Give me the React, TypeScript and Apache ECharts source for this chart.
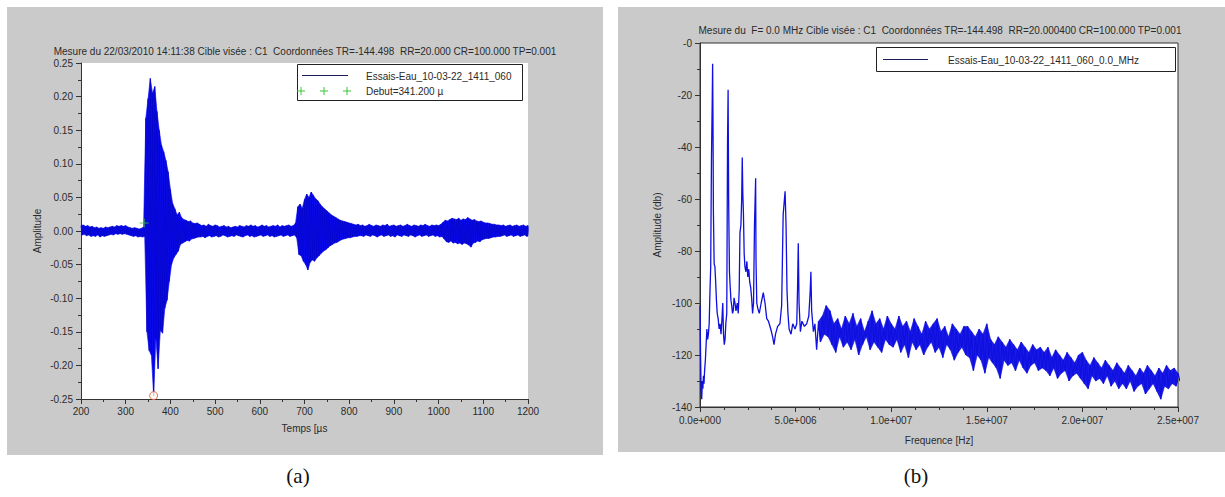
import React, { useEffect, useRef } from 'react';
import * as echarts from 'echarts';

// ---------- (a) time signal: envelope, one pair every 5 µs ----------
const timeStartUs = 200;
const timeStepUs = 5;
const upperAmp = [
  // 200 - 340
  0.008, 0.009, 0.007, 0.008, 0.006, 0.007, 0.005, 0.006, 0.004, 0.005, 0.004, 0.006, 0.005, 0.006, 0.007,
  0.006, 0.008, 0.007, 0.008, 0.007, 0.008, 0.006, 0.005, 0.004, 0.005, 0.004, 0.003, 0.004, 0.006,
  // 345 - 460
  0.168, 0.197, 0.227, 0.205, 0.215, 0.178, 0.15, 0.128, 0.118, 0.105, 0.088, 0.062, 0.041, 0.033, 0.024,
  0.028, 0.02, 0.017, 0.016, 0.014, 0.015, 0.012, 0.011, 0.012,
  // 465 - 680
  0.010, 0.008, 0.009, 0.007, 0.010, 0.008, 0.007, 0.009, 0.008, 0.006, 0.007, 0.008, 0.006, 0.007, 0.005,
  0.006, 0.007, 0.006, 0.008, 0.007, 0.006, 0.008, 0.007, 0.009, 0.007, 0.008, 0.006, 0.007, 0.009, 0.007,
  0.008, 0.006, 0.007, 0.008, 0.007, 0.009, 0.006, 0.008, 0.007, 0.008, 0.009, 0.007, 0.008, 0.012,
  // 685 - 820
  0.036, 0.040, 0.034, 0.047, 0.055, 0.050, 0.058, 0.053, 0.048, 0.045, 0.040, 0.036, 0.033, 0.030, 0.027,
  0.024, 0.022, 0.020, 0.018, 0.016, 0.015, 0.014, 0.013, 0.012, 0.011, 0.010, 0.009, 0.010,
  // 825 - 1010
  0.008, 0.009, 0.007, 0.008, 0.010, 0.008, 0.007, 0.009, 0.008, 0.007, 0.009, 0.008, 0.010, 0.007, 0.008,
  0.009, 0.007, 0.008, 0.009, 0.007, 0.008, 0.010, 0.008, 0.007, 0.009, 0.008, 0.007, 0.009, 0.008, 0.010,
  0.008, 0.007, 0.009, 0.008, 0.009, 0.008, 0.010, 0.013,
  // 1015 - 1130
  0.016, 0.015, 0.017, 0.019, 0.018, 0.017, 0.019, 0.016, 0.018, 0.017, 0.020, 0.018, 0.016, 0.017, 0.015,
  0.014, 0.015, 0.013, 0.012, 0.012, 0.011, 0.010, 0.010, 0.009,
  // 1135 - 1200
  0.009, 0.008, 0.009, 0.007, 0.008, 0.009, 0.007, 0.008, 0.009, 0.007, 0.008, 0.009, 0.007, 0.008,
];
const lowerAmp = [
  // 200 - 340
  -0.006, -0.005, -0.007, -0.006, -0.008, -0.007, -0.008, -0.006, -0.009, -0.007, -0.008, -0.007, -0.006, -0.005, -0.006,
  -0.004, -0.005, -0.004, -0.005, -0.004, -0.005, -0.006, -0.007, -0.008, -0.007, -0.009, -0.008, -0.009, -0.008,
  // 345 - 460
  -0.150, -0.178, -0.185, -0.245, -0.160, -0.205, -0.148, -0.152, -0.115, -0.103, -0.075, -0.050, -0.040, -0.035, -0.030,
  -0.020, -0.018, -0.016, -0.014, -0.015, -0.012, -0.011, -0.010, -0.009,
  // 465 - 680
  -0.009, -0.008, -0.010, -0.008, -0.007, -0.009, -0.008, -0.007, -0.009, -0.008, -0.006, -0.007, -0.009, -0.008, -0.007,
  -0.008, -0.006, -0.007, -0.008, -0.009, -0.007, -0.006, -0.008, -0.007, -0.009, -0.008, -0.007, -0.006, -0.008, -0.007,
  -0.006, -0.008, -0.007, -0.009, -0.008, -0.007, -0.006, -0.008, -0.007, -0.006, -0.008, -0.007, -0.006, -0.010,
  // 685 - 820
  -0.035, -0.037, -0.045, -0.050, -0.058, -0.047, -0.043, -0.045, -0.040, -0.037, -0.033, -0.030, -0.028, -0.025, -0.022,
  -0.020, -0.018, -0.017, -0.015, -0.013, -0.012, -0.011, -0.010, -0.010, -0.009, -0.008, -0.008, -0.007,
  // 825 - 1010
  -0.007, -0.008, -0.006, -0.007, -0.008, -0.006, -0.007, -0.009, -0.007, -0.006, -0.008, -0.007, -0.006, -0.008, -0.007,
  -0.009, -0.006, -0.007, -0.008, -0.006, -0.007, -0.008, -0.006, -0.007, -0.009, -0.007, -0.006, -0.008, -0.007, -0.006,
  -0.008, -0.007, -0.006, -0.008, -0.007, -0.009, -0.008, -0.012,
  // 1015 - 1130
  -0.016, -0.017, -0.015, -0.018, -0.017, -0.019, -0.018, -0.020, -0.018, -0.019, -0.021, -0.024, -0.018, -0.017, -0.015,
  -0.016, -0.013, -0.012, -0.011, -0.011, -0.010, -0.009, -0.009, -0.008,
  // 1135 - 1200
  -0.008, -0.007, -0.006, -0.008, -0.007, -0.006, -0.008, -0.007, -0.006, -0.008, -0.007, -0.006, -0.008, -0.007,
];
const debutTimeUs = 341.2;
const debutAmp = 0.012;

// ---------- (b) spectrum ----------
const peakFreqMHz = [
  0.0, 0.03, 0.06, 0.09, 0.12, 0.15, 0.18, 0.21, 0.24, 0.28, 0.32, 0.36, 0.4, 0.44, 0.48, 0.52, 0.56, 0.6, 0.64, 0.66,
  0.68, 0.7, 0.74, 0.78, 0.82, 0.86, 0.9, 0.95, 1.0, 1.05, 1.1, 1.15, 1.19, 1.23, 1.27, 1.31, 1.35, 1.4, 1.44, 1.47,
  1.5, 1.54, 1.58, 1.62, 1.66, 1.7, 1.74, 1.78, 1.83, 1.88, 1.95, 2.0, 2.05, 2.09, 2.14, 2.18, 2.21, 2.24, 2.27, 2.31,
  2.35, 2.4, 2.45, 2.5, 2.55, 2.6, 2.65, 2.7, 2.75, 2.8, 2.85, 2.91, 2.93, 2.97, 3.02, 3.1, 3.2, 3.31, 3.4, 3.49,
  3.58, 3.7, 3.8, 3.87, 3.95, 4.06, 4.18, 4.27, 4.35, 4.45, 4.5, 4.55, 4.6, 4.66, 4.76, 4.85, 4.97, 5.06, 5.1, 5.14,
  5.18, 5.25, 5.33, 5.46, 5.58, 5.69, 5.76, 5.8, 5.84, 5.93, 6.01, 6.1,
];
const peakDb = [
  -101, -120, -134, -137, -130, -133, -128, -131, -126, -122, -116, -110, -114, -112, -108, -96, -86, -44, -22, -8,
  -30, -64, -85, -86, -92, -99, -104, -106, -110, -108, -112, -106, -100, -112, -116, -114, -108, -104, -38, -18,
  -62, -88, -94, -99, -101, -104, -103, -98, -100, -103, -100, -104, -95, -73, -70, -60, -44, -58, -65, -81,
  -86, -88, -84, -90, -87, -92, -94, -98, -104, -100, -70, -52, -84, -100, -102, -104, -100, -96, -100, -106,
  -107, -110, -113, -116, -112, -109, -108, -101, -66, -57, -70, -95, -104, -110, -112, -108, -110, -108, -95, -77,
  -100, -111, -107, -109, -108, -105, -96, -88, -103, -111, -108, -118,
];
const noiseStartMHz = 6.2;
const noiseStepMHz = 0.2;
const noiseUpperDb = [
  // 6.2 - 9.8
  -107, -105, -101, -103, -108, -106, -110, -105, -108, -104, -109, -106, -111, -107, -103, -108, -106, -110, -105,
  // 10.0 - 13.8
  -108, -110, -105, -109, -107, -111, -106, -109, -112, -107, -110, -108, -106, -111, -109, -113, -108, -110, -112, -109,
  // 14.0 - 17.8
  -109, -111, -113, -110, -112, -108, -114, -116, -113, -115, -117, -114, -116, -118, -115, -117, -119, -116, -118, -117,
  // 18.0 - 21.8
  -119, -117, -121, -118, -120, -122, -119, -121, -123, -120, -119, -122, -124, -121, -123, -125, -122, -124, -126, -123,
  // 22.0 - 25.0
  -125, -127, -124, -126, -128, -125, -127, -124, -126, -128, -125, -127, -124, -126, -125, -127,
];
const noiseLowerDb = [
  // 6.2 - 9.8
  -115, -112, -113, -116, -119, -113, -117, -115, -118, -114, -120, -116, -113, -118, -115, -117, -119, -114, -116,
  // 10.0 - 13.8
  -117, -114, -119, -116, -121, -115, -118, -116, -120, -117, -115, -119, -117, -121, -116, -118, -122, -119, -117, -120,
  // 14.0 - 17.8
  -121, -126, -120, -122, -127, -121, -123, -125, -129, -122, -124, -123, -126, -122, -125, -127, -124, -123, -126, -125,
  // 18.0 - 21.8
  -126, -128, -125, -129, -127, -126, -130, -128, -127, -129, -131, -133, -128, -130, -129, -131, -128, -132, -130, -133,
  // 22.0 - 25.0
  -131, -133, -130, -134, -132, -131, -135, -133, -131, -134, -137, -132, -133, -131, -132, -130,
];

const titleA =
  'Mesure du 22/03/2010 14:11:38 Cible visée : C1  Coordonnées TR=-144.498  RR=20.000 CR=100.000 TP=0.001';
const titleB =
  'Mesure du  F= 0.0 MHz Cible visée : C1  Coordonnées TR=-144.498  RR=20.000400 CR=100.000 TP=0.001';
const legendA1 = 'Essais-Eau_10-03-22_1411_060';
const legendA2 = 'Debut=341.200 µ';
const legendB = 'Essais-Eau_10-03-22_1411_060_0.0_MHz';

const FONT = 'Liberation Sans, Arial, sans-serif';
const TXT = '#2a2a2a';
const AXIS = '#333';
const BLUE_A = '#0b0bf0';
const BLUE_B = '#0f0fe0';

function sciLabel(v: number): string {
  if (v === 0) return '0.0e+000';
  const e = Math.floor(Math.log10(Math.abs(v)) + 1e-9);
  const m = v / Math.pow(10, e);
  return m.toFixed(1) + 'e+' + String(e).padStart(3, '0');
}

function txt(text: string, x: number, y: number, align: string, size = 10, family = FONT, color = TXT) {
  return {
    type: 'text',
    z: 50,
    style: {
      text,
      x,
      y,
      fill: color,
      font: `${size}px ${family}`,
      textAlign: align,
      textVerticalAlign: 'middle',
      align,
      verticalAlign: 'middle',
    },
  };
}

function plus(cx: number, cy: number, color: string) {
  return [
    { type: 'line', z: 50, shape: { x1: cx - 4, y1: cy, x2: cx + 4, y2: cy }, style: { stroke: color, lineWidth: 1 } },
    { type: 'line', z: 50, shape: { x1: cx, y1: cy - 4, x2: cx, y2: cy + 4 }, style: { stroke: color, lineWidth: 1 } },
  ];
}

export default function App() {
  const ref = useRef<HTMLDivElement>(null);

  useEffect(() => {
    if (!ref.current) return;
    const chart = echarts.init(ref.current, undefined, { renderer: 'svg' });

    // (a) zigzag through the read envelope, plus the filled band between the envelopes
    const waveData: number[][] = [];
    upperAmp.forEach((u, i) => {
      const t = timeStartUs + i * timeStepUs;
      waveData.push([t, u]);
      if (i < lowerAmp.length) waveData.push([t + timeStepUs / 2, lowerAmp[i]]);
    });
    let minIdx = 0;
    lowerAmp.forEach((l, i) => {
      if (l < lowerAmp[minIdx]) minIdx = i;
    });
    const minPoint = [timeStartUs + minIdx * timeStepUs + timeStepUs / 2, lowerAmp[minIdx]];

    // (b) peaks as a line, then the noise band
    const specData: number[][] = peakFreqMHz.map((f, i) => [f * 1e6, peakDb[i]]);
    noiseUpperDb.forEach((u, i) => {
      const f = noiseStartMHz + i * noiseStepMHz;
      specData.push([f * 1e6, u]);
      if (i < noiseLowerDb.length) specData.push([(f + noiseStepMHz / 2) * 1e6, noiseLowerDb[i]]);
    });

    const bandA = (params: any, api: any) => {
      const pts: number[][] = [];
      upperAmp.forEach((u, i) => pts.push(api.coord([timeStartUs + i * timeStepUs, u])));
      for (let i = lowerAmp.length - 1; i >= 0; i--) {
        pts.push(api.coord([timeStartUs + i * timeStepUs + timeStepUs / 2, lowerAmp[i]]));
      }
      return { type: 'polygon', shape: { points: pts }, style: { fill: BLUE_A, stroke: BLUE_A, lineWidth: 0.6 } };
    };
    const bandB = (params: any, api: any) => {
      const pts: number[][] = [];
      noiseUpperDb.forEach((u, i) => pts.push(api.coord([(noiseStartMHz + i * noiseStepMHz) * 1e6, u])));
      for (let i = noiseLowerDb.length - 1; i >= 0; i--) {
        const f = Math.min(noiseStartMHz + i * noiseStepMHz + noiseStepMHz / 2, 25);
        pts.push(api.coord([f * 1e6, noiseLowerDb[i]]));
      }
      return { type: 'polygon', shape: { points: pts }, style: { fill: '#1a1ae6', stroke: BLUE_B, lineWidth: 0.6 } };
    };

    const gA = { left: 81, top: 63, width: 447, height: 336 };
    const gB = { left: 700, top: 43, width: 478, height: 364 };

    const axisLabel = { fontSize: 10, fontFamily: FONT, color: TXT, showMinLabel: true, showMaxLabel: true, hideOverlap: false };
    const axisLine = { show: true, onZero: false, lineStyle: { color: AXIS, width: 1 } };
    const nameStyle = { fontSize: 10, fontFamily: FONT, color: TXT };

    chart.setOption({
      animation: false,
      backgroundColor: '#fff',
      grid: [
        { ...gA, containLabel: false },
        { ...gB, containLabel: false },
      ],
      xAxis: [
        {
          type: 'value', gridIndex: 0, min: 200, max: 1200, interval: 100,
          axisLine, axisTick: { show: true, length: 5 }, minorTick: { show: true, splitNumber: 2, length: 3 },
          splitLine: { show: false }, axisLabel: { ...axisLabel, margin: 7, formatter: (v: number) => String(v) },
          name: 'Temps [µs', nameLocation: 'middle', nameGap: 24, nameTextStyle: nameStyle,
        },
        {
          type: 'value', gridIndex: 1, min: 0, max: 2.5e7, interval: 5e6,
          axisLine, axisTick: { show: true, length: 5 }, minorTick: { show: true, splitNumber: 4, length: 3 },
          splitLine: { show: false }, axisLabel: { ...axisLabel, margin: 8, formatter: (v: number) => sciLabel(v) },
          name: 'Frequence [Hz]', nameLocation: 'middle', nameGap: 28, nameTextStyle: nameStyle,
        },
      ],
      yAxis: [
        {
          type: 'value', gridIndex: 0, min: -0.25, max: 0.25, interval: 0.05,
          axisLine, axisTick: { show: true, length: 5 }, minorTick: { show: true, splitNumber: 2, length: 3 },
          splitLine: { show: false }, axisLabel: { ...axisLabel, margin: 8, formatter: (v: number) => v.toFixed(2) },
          name: 'Amplitude', nameLocation: 'middle', nameGap: 39, nameTextStyle: nameStyle,
        },
        {
          type: 'value', gridIndex: 1, min: -140, max: 0, interval: 20,
          axisLine, axisTick: { show: true, length: 5 }, minorTick: { show: true, splitNumber: 2, length: 3 },
          splitLine: { show: false }, axisLabel: { ...axisLabel, margin: 8, formatter: (v: number) => (v === 0 ? '-0' : String(v)) },
          name: 'Amplitude (db)', nameLocation: 'middle', nameGap: 38, nameTextStyle: nameStyle,
        },
      ],
      series: [
        {
          type: 'custom', xAxisIndex: 0, yAxisIndex: 0, data: [[timeStartUs, 0]], renderItem: bandA, clip: true, z: 2,
        },
        {
          type: 'line', xAxisIndex: 0, yAxisIndex: 0, data: waveData, showSymbol: false, symbol: 'none',
          lineStyle: { color: '#0606c8', width: 0.7 }, clip: true, z: 3,
        },
        {
          type: 'scatter', xAxisIndex: 0, yAxisIndex: 0, data: [[debutTimeUs, debutAmp]],
          symbol: 'path://M-0.6,-5h1.2v10h-1.2z M-5,-0.6h10v1.2h-10z', symbolSize: 9,
          itemStyle: { color: '#3bc43b' }, z: 5,
        },
        {
          type: 'scatter', xAxisIndex: 0, yAxisIndex: 0, data: [minPoint],
          symbol: 'circle', symbolSize: 8,
          itemStyle: { color: '#fff8f0', borderColor: '#d0502a', borderWidth: 1 }, z: 5,
        },
        {
          type: 'custom', xAxisIndex: 1, yAxisIndex: 1, data: [[noiseStartMHz * 1e6, noiseUpperDb[0]]],
          renderItem: bandB, clip: true, z: 2,
        },
        {
          type: 'line', xAxisIndex: 1, yAxisIndex: 1, data: specData, showSymbol: false, symbol: 'none',
          lineStyle: { color: BLUE_B, width: 1.3 }, clip: true, z: 3,
        },
      ],
      graphic: [
        { type: 'rect', z: -20, shape: { x: 7, y: 7, width: 596, height: 448 }, style: { fill: '#cacaca' } },
        { type: 'rect', z: -20, shape: { x: 618, y: 7, width: 607, height: 445 }, style: { fill: '#cacaca' } },
        { type: 'rect', z: -10, shape: { x: gA.left, y: gA.top, width: gA.width, height: gA.height }, style: { fill: '#fff' } },
        {
          type: 'rect', z: -10, shape: { x: gB.left, y: gB.top, width: gB.width, height: gB.height },
          style: { fill: '#fff', stroke: AXIS, lineWidth: 1 },
        },
        txt(titleA, 305, 51, 'center'),
        txt(titleB, 940, 30, 'center'),
        // legend (a)
        { type: 'rect', z: 40, shape: { x: 297.5, y: 64.5, width: 225, height: 36 }, style: { fill: '#fff', stroke: '#222', lineWidth: 1 } },
        { type: 'line', z: 50, shape: { x1: 302, y1: 75.5, x2: 348, y2: 75.5 }, style: { stroke: '#1c1c5c', lineWidth: 1 } },
        txt(legendA1, 366, 76, 'left'),
        ...plus(301, 91, '#3bc43b'),
        ...plus(324, 91, '#3bc43b'),
        ...plus(347, 91, '#3bc43b'),
        txt(legendA2, 366, 91, 'left'),
        // legend (b)
        { type: 'rect', z: 40, shape: { x: 876.5, y: 47.5, width: 299, height: 24 }, style: { fill: '#fff', stroke: '#222', lineWidth: 1 } },
        { type: 'line', z: 50, shape: { x1: 883, y1: 59.5, x2: 928, y2: 59.5 }, style: { stroke: '#1c1c5c', lineWidth: 1 } },
        txt(legendB, 948, 60, 'left'),
        // captions
        txt('(a)', 298, 476, 'center', 21, 'Liberation Serif, serif', '#111'),
        txt('(b)', 916, 476, 'center', 21, 'Liberation Serif, serif', '#111'),
      ],
    });

    return () => chart.dispose();
  }, []);

  return <div ref={ref} style={{ position: 'absolute', left: 0, top: 0, width: 1225, height: 497 }} />;
}
